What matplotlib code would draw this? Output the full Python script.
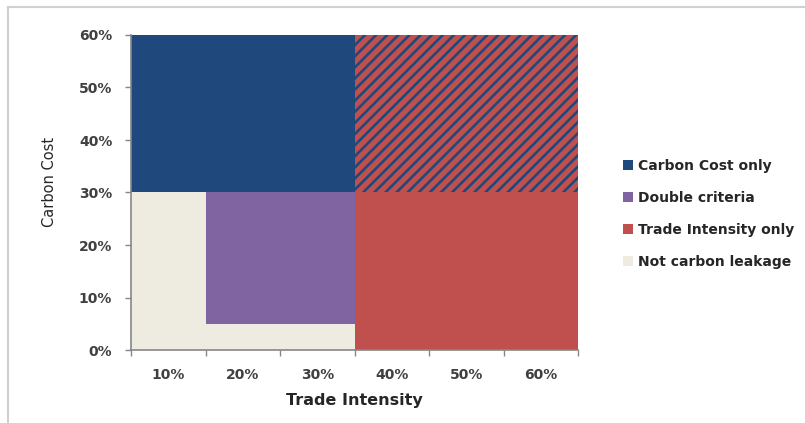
import numpy as np
import matplotlib.pyplot as plt
from matplotlib.lines import Line2D

plt.rcParams['font.family'] = ['DejaVu Sans']
plt.rcParams['hatch.linewidth'] = 1.9

# ---- data (carbon cost band per trade-intensity category, in %) ----
categories = ['10%', '20%', '30%', '40%', '50%', '60%']
not_leakage = [30, 5, 5, 0, 0, 0]
double_criteria = [0, 25, 25, 0, 0, 0]
trade_only = [0, 0, 0, 30, 30, 30]
carbon_only = [30, 30, 30, 0, 0, 0]
both_hatched = [0, 0, 0, 30, 30, 30]

c_blue = '#1F497D'
c_purple = '#8064A2'
c_red = '#C0504D'
c_beige = '#EEECE1'

fig = plt.figure(figsize=(8.05, 4.23), dpi=100)
ax = fig.add_axes([131 / 805, 1 - 350 / 423, 447 / 805, 315 / 423])

x = np.arange(len(categories))
bottom = np.zeros(len(categories))
series = [
    (not_leakage, c_beige, 'Not carbon leakage'),
    (double_criteria, c_purple, 'Double criteria'),
    (trade_only, c_red, 'Trade Intensity only'),
    (carbon_only, c_blue, 'Carbon Cost only'),
]
handles = {}
for vals, col, lab in series:
    b = ax.bar(x, vals, width=1.0, bottom=bottom, color=col, linewidth=0, label=lab)
    handles[lab] = b
    bottom += np.array(vals)

# red area with blue stripes (both criteria above 30%)
ax.bar(x, both_hatched, width=1.0, bottom=bottom, facecolor=c_red,
       edgecolor=c_blue, hatch='///', linewidth=0)

ax.set_xlim(-0.5, len(categories) - 0.5)
ax.set_ylim(0, 60)

ax.set_yticks(np.arange(0, 61, 10))
ax.set_yticklabels([f'{v}%' for v in range(0, 61, 10)])
ax.set_xticks(np.arange(-0.5, len(categories), 1.0))
ax.set_xticklabels([])
ax.set_xticks(x, minor=True)
ax.set_xticklabels(categories, minor=True)
ax.tick_params(axis='x', which='minor', length=0, pad=13)
ax.tick_params(axis='both', which='major', length=4.5, color='#868686', width=1)
ax.tick_params(axis='y', pad=9)
for lab in ax.get_xticklabels(minor=True) + ax.get_yticklabels():
    lab.set_fontweight('bold')
    lab.set_fontsize(10)
    lab.set_color('#404040')

for s in ['top', 'right']:
    ax.spines[s].set_visible(False)
for s in ['left', 'bottom']:
    ax.spines[s].set_color('#868686')
    ax.spines[s].set_linewidth(1.2)

ax.set_xlabel('Trade Intensity', fontsize=11.5, fontweight='bold', color='#262626', labelpad=8)
ax.set_ylabel('Carbon Cost', fontsize=10.5, color='#262626')
ax.yaxis.set_label_coords(-0.165, 0.533)

order = ['Carbon Cost only', 'Double criteria', 'Trade Intensity only', 'Not carbon leakage']
leg = fig.legend([handles[k] for k in order], order, loc='upper left',
                 bbox_to_anchor=(610 / 805, 1 - 146 / 423), frameon=False,
                 handlelength=0.72, handleheight=0.72, handletextpad=0.4,
                 labelspacing=1.3, prop={'weight': 'bold', 'size': 10})
for t in leg.get_texts():
    t.set_color('#262626')

# light frame of the chart area (top and left edges only visible)
fig.add_artist(Line2D([8 / 805, 1.0], [1 - 7 / 423, 1 - 7 / 423], transform=fig.transFigure,
                      color='#D0D0D0', linewidth=1.5))
fig.add_artist(Line2D([8 / 805, 8 / 805], [0.0, 1 - 7 / 423], transform=fig.transFigure,
                      color='#D0D0D0', linewidth=1.5))

fig.savefig('out.png', dpi=100)
